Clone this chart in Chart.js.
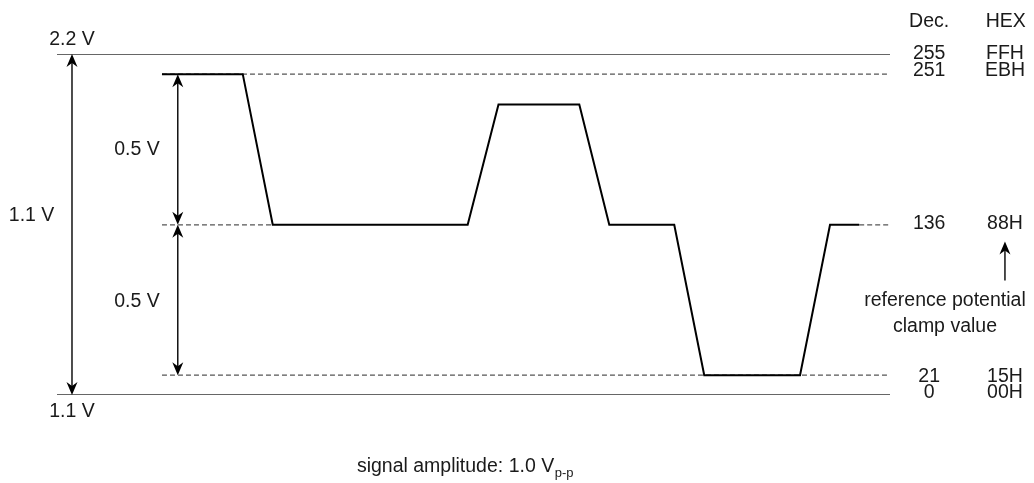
<!DOCTYPE html>
<html>
<head>
<meta charset="utf-8">
<script src="https://cdn.jsdelivr.net/npm/chart.js@4.4.1/dist/chart.umd.min.js"></script>
<style>
  html, body { margin: 0; padding: 0; background: #ffffff; }
  #wrap { width: 1034px; height: 483px; position: relative; }
</style>
</head>
<body>
<div id="wrap"><canvas id="c"></canvas></div>
<script>
// ---- data (time in arbitrary units 0..100, level in volts) ----
const waveTime = [12.6, 22.3, 25.9, 49.3, 53.0, 62.7, 66.3, 74.1, 77.7, 89.2, 92.8, 96.3];
const waveVolt = [2.135, 2.135, 1.649, 1.649, 2.037, 2.037, 1.649, 1.649, 1.164, 1.164, 1.649, 1.649];

const levelDec  = ['255', '251', '136', '21', '0'];
const levelHex  = ['FFH', 'EBH', '88H', '15H', '00H'];
const levelVolt = [2.2, 2.135, 1.649, 1.164, 1.1];

const fullRange   = [0, 100];      // solid reference lines (255 / 0)
const dashedStart = 12.6;          // dashed reference lines start
const clampGapStart = 25.9;        // 136 dashed line, first part end
const clampTailStart = 96.3;       // 136 dashed line, tail start

const rangeLabels = ['2.2 V', '1.1 V', '1.1 V', '0.5 V', '0.5 V'];
const columnHeads = ['Dec.', 'HEX'];

// ---- datasets built from the arrays ----
const wavePoints = waveTime.map((t, i) => ({ x: t, y: waveVolt[i] }));
const solidTop = fullRange.map(t => ({ x: t, y: levelVolt[0] }));
const solidBottom = fullRange.map(t => ({ x: t, y: levelVolt[4] }));
const dashEB = [{ x: dashedStart, y: levelVolt[1] }, { x: fullRange[1], y: levelVolt[1] }];
const dash88 = [{ x: dashedStart, y: levelVolt[2] }, { x: clampGapStart, y: levelVolt[2] },
                { x: 50, y: null },
                { x: clampTailStart, y: levelVolt[2] }, { x: fullRange[1], y: levelVolt[2] }];
const dash15 = [{ x: dashedStart, y: levelVolt[3] }, { x: fullRange[1], y: levelVolt[3] }];

const FONT = '"Liberation Sans", Arial, Helvetica, sans-serif';
const TXT = '#1a1a1a';

// annotation config (text & arrows placed in data coordinates)
const colDecT = 104.7, colHexT = 113.8;
const labelDy = [0, -4, -1, 1, -2];
const arrows = [
  { t: 1.8,  from: levelVolt[4], to: levelVolt[0], heads: 'both' },
  { t: 14.5, from: levelVolt[2], to: levelVolt[1], heads: 'both' },
  { t: 14.5, from: levelVolt[3], to: levelVolt[2], heads: 'both' },
  { t: colHexT, from: 1.469, to: 1.595, heads: 'end' }
];

function drawHead(ctx, x, y, dir) {
  // dir: -1 pointing up, +1 pointing down
  const L = 13, W = 5.5, N = 9;
  ctx.beginPath();
  ctx.moveTo(x, y);
  ctx.lineTo(x - W, y - dir * L);
  ctx.lineTo(x, y - dir * N);
  ctx.lineTo(x + W, y - dir * L);
  ctx.closePath();
  ctx.fill();
}

const annot = {
  id: 'annot',
  afterDatasetsDraw(chart) {
    const { ctx, scales: { x, y } } = chart;
    ctx.save();
    // arrows
    ctx.strokeStyle = '#000';
    ctx.fillStyle = '#000';
    ctx.lineWidth = 1.4;
    arrows.forEach(a => {
      const px = x.getPixelForValue(a.t);
      const y1 = y.getPixelForValue(a.from);
      const y2 = y.getPixelForValue(a.to);
      const top = Math.min(y1, y2), bot = Math.max(y1, y2);
      ctx.beginPath();
      ctx.moveTo(px, (a.heads === 'both') ? bot - 6 : bot);
      ctx.lineTo(px, top + 6);
      ctx.stroke();
      drawHead(ctx, px, top, -1);
      if (a.heads === 'both') drawHead(ctx, px, bot, 1);
    });

    // texts
    ctx.fillStyle = TXT;
    ctx.font = '19.5px ' + FONT;
    ctx.textAlign = 'center';
    ctx.textBaseline = 'middle';
    const T = (s, t, v, dy) => ctx.fillText(s, x.getPixelForValue(t), y.getPixelForValue(v) + (dy || 0));

    T(rangeLabels[0], 1.8, levelVolt[0], -14);
    T(rangeLabels[1], 1.8, levelVolt[4], 16.5);
    T(rangeLabels[2], -3.05, 1.65, -9);
    T(rangeLabels[3], 9.6, 1.89, 0);
    T(rangeLabels[4], 9.6, 1.4, 0);

    T(columnHeads[0], colDecT, levelVolt[0], -32.5);
    T(columnHeads[1], colHexT + 0.1, levelVolt[0], -32.5);
    levelDec.forEach((d, i) => {
      T(d, colDecT, levelVolt[i], labelDy[i]);
      T(levelHex[i], colHexT, levelVolt[i], labelDy[i]);
    });
    T('reference potential', 106.6, 1.649, 76);
    T('clamp value', 106.6, 1.649, 102);

    // bottom caption with subscript
    ctx.textAlign = 'left';
    const bx = x.getPixelForValue(36.0);
    const by = y.getPixelForValue(levelVolt[4]) + 72;
    const main = 'signal amplitude: 1.0 V';
    ctx.fillText(main, bx, by);
    const w = ctx.measureText(main).width;
    ctx.font = '13px ' + FONT;
    ctx.fillText('p-p', bx + w + 0.5, by + 6);
    ctx.restore();
  }
};

new Chart(document.getElementById('c'), {
  type: 'scatter',
  data: {
    datasets: [
      { data: wavePoints, showLine: true, borderColor: '#000', borderWidth: 2, pointRadius: 0, order: 0, borderJoinStyle: 'miter' },
      { data: solidTop, showLine: true, borderColor: '#333', borderWidth: 1.5, pointRadius: 0, order: 1 },
      { data: solidBottom, showLine: true, borderColor: '#333', borderWidth: 1.5, pointRadius: 0, order: 1 },
      { data: dashEB, showLine: true, borderColor: '#555', borderWidth: 1.2, borderDash: [5, 3], pointRadius: 0, order: 2 },
      { data: dash88, showLine: true, borderColor: '#555', borderWidth: 1.2, borderDash: [5, 3], pointRadius: 0, order: 2, spanGaps: false },
      { data: dash15, showLine: true, borderColor: '#555', borderWidth: 1.2, borderDash: [5, 3], pointRadius: 0, order: 2 }
    ]
  },
  options: {
    responsive: true,
    maintainAspectRatio: false,
    animation: false,
    devicePixelRatio: 1,
    layout: { padding: { left: 57, right: 144, top: 54, bottom: 88 } },
    plugins: { legend: { display: false }, tooltip: { enabled: false } },
    scales: {
      x: { type: 'linear', min: 0, max: 100, display: false },
      y: { type: 'linear', min: 1.1, max: 2.2, display: false }
    }
  },
  plugins: [annot]
});
</script>
</body>
</html>
